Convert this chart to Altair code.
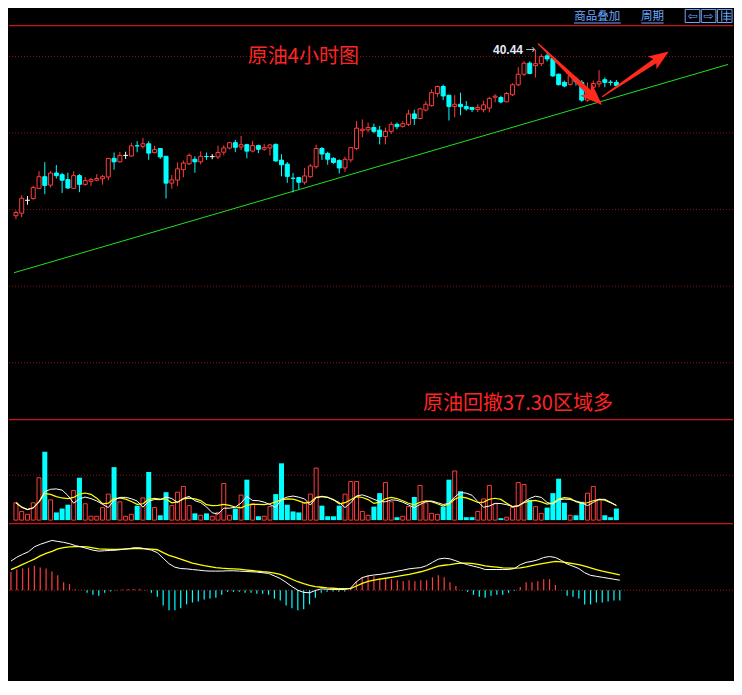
import altair as alt
import pandas as pd

# ---------------- data ----------------
opens = [29.60, 29.77, 30.61, 30.72, 31.39, 32.15, 31.60, 32.39, 32.28, 31.96,
         31.39, 32.22, 31.65, 31.85, 31.92, 32.01, 32.13, 33.35, 33.12, 33.54,
         33.50, 34.17, 34.13, 34.30, 33.72, 33.99, 33.48, 31.73, 31.93, 32.61,
         32.99, 33.29, 33.12, 33.47, 33.46, 33.44, 33.75, 34.02, 34.37, 34.09,
         34.24, 33.82, 34.18, 33.94, 34.03, 34.26, 33.23, 32.97, 32.05, 32.09,
         31.79, 32.15, 32.80, 33.99, 33.67, 33.35, 33.21, 32.72, 33.25, 33.99,
         35.15, 35.21, 35.36, 35.19, 34.77, 35.11, 35.57, 35.44, 35.57, 36.25,
         35.95, 36.50, 36.79, 37.58, 38.04, 37.47, 36.73, 36.88, 36.73, 36.67,
         36.54, 36.52, 36.63, 37.34, 37.32, 37.04, 37.50, 38.15, 38.84, 39.56,
         39.40, 39.53, 40.04, 39.87, 38.84, 38.31, 38.18, 38.54, 38.31, 37.15,
         37.99, 38.21, 38.48, 38.32, 38.31]
closes = [29.81, 30.74, 30.61, 31.44, 32.15, 31.58, 32.39, 32.22, 31.92, 31.41,
          32.22, 31.65, 31.90, 31.96, 32.03, 32.15, 33.34, 33.12, 33.54, 33.54,
          34.16, 34.16, 34.30, 33.69, 33.92, 33.44, 31.73, 31.94, 32.66, 33.04,
          33.54, 33.12, 33.48, 33.46, 33.46, 33.73, 34.03, 34.37, 34.07, 34.24,
          33.82, 34.18, 33.94, 34.05, 34.22, 33.18, 32.93, 32.17, 32.04, 31.79,
          32.20, 32.85, 33.99, 33.63, 33.29, 33.08, 32.72, 33.29, 34.05, 35.32,
          35.25, 35.36, 35.11, 34.77, 35.11, 35.57, 35.42, 35.61, 36.25, 35.95,
          36.58, 36.88, 37.64, 38.04, 37.42, 36.73, 36.88, 36.73, 36.58, 36.54,
          36.67, 36.84, 37.26, 37.41, 37.03, 37.58, 38.15, 38.84, 39.56, 38.89,
          39.53, 40.00, 39.84, 38.73, 38.16, 38.07, 38.73, 38.35, 37.15, 37.85,
          38.23, 38.35, 38.31, 38.31, 38.10]
highs = [29.94, 30.93, 30.89, 31.56, 32.51, 33.10, 32.51, 32.91, 32.41, 32.41,
         32.51, 32.32, 32.13, 32.09, 32.32, 32.26, 33.37, 33.73, 33.75, 33.78,
         34.35, 34.47, 34.68, 34.47, 34.16, 34.02, 33.51, 32.26, 33.08, 33.21,
         33.67, 33.48, 33.80, 33.73, 33.63, 34.18, 34.20, 34.43, 34.56, 34.81,
         34.30, 34.49, 34.24, 34.30, 34.27, 34.32, 33.61, 33.10, 32.39, 32.10,
         32.72, 32.97, 34.24, 34.09, 33.78, 33.42, 33.29, 33.46, 34.08, 35.78,
         35.89, 35.68, 35.61, 35.46, 35.36, 35.74, 35.68, 35.78, 36.52, 36.52,
         36.66, 37.09, 37.85, 38.10, 38.16, 37.50, 37.47, 37.64, 37.09, 36.70,
         36.88, 37.11, 37.36, 37.53, 37.44, 37.68, 38.25, 39.30, 39.68, 39.68,
         40.44, 40.15, 40.21, 40.00, 38.88, 38.42, 38.94, 38.67, 38.46, 38.31,
         38.42, 39.11, 38.63, 38.46, 38.46]
lows = [29.37, 29.51, 30.32, 30.65, 31.35, 31.01, 31.44, 32.04, 31.09, 31.35,
        31.35, 31.14, 31.56, 31.54, 31.85, 31.63, 31.92, 32.61, 33.08, 33.31,
        33.46, 33.75, 33.99, 33.25, 33.67, 33.31, 30.72, 31.36, 31.54, 32.11,
        32.91, 32.41, 32.96, 33.25, 33.29, 33.31, 33.54, 33.94, 33.75, 33.88,
        33.35, 33.73, 33.69, 33.84, 33.53, 33.12, 32.17, 31.75, 31.12, 31.33,
        31.63, 32.09, 32.68, 33.25, 32.93, 32.99, 32.36, 32.47, 33.08, 33.88,
        34.73, 35.04, 34.98, 34.26, 34.26, 34.94, 35.25, 35.36, 35.46, 35.53,
        35.89, 36.41, 36.73, 37.36, 37.15, 35.82, 36.03, 36.16, 36.46, 36.37,
        36.37, 36.35, 36.35, 37.01, 36.94, 37.01, 37.41, 38.06, 38.73, 38.84,
        38.63, 39.37, 39.68, 38.67, 38.10, 37.99, 38.10, 38.10, 37.04, 37.04,
        37.89, 37.99, 37.99, 38.10, 37.99]
volumes = [5400, 2700, 1800, 5400, 13200, 21300, 6300, 2400, 3600, 4800,
           9200, 13200, 5100, 1200, 1200, 3900, 8100, 16500, 5700, 1200,
           1800, 4500, 6900, 15000, 3900, 1500, 8700, 4500, 8700, 10500,
           4500, 2100, 1500, 2100, 1200, 2400, 11400, 1500, 3600, 7800,
           12600, 5100, 1200, 1200, 4200, 8100, 17700, 4800, 2700, 2400,
           5400, 8100, 16200, 4500, 1200, 1200, 4500, 8100, 12000, 12000,
           2700, 1500, 4200, 8400, 11700, 5700, 900, 1200, 4200, 7200,
           10800, 5400, 2100, 1800, 4200, 12600, 15300, 9000, 900, 900,
           2700, 6600, 10800, 5100, 600, 900, 3900, 11700, 11100, 6300,
           4200, 2100, 3900, 8400, 12900, 5400, 1500, 1500, 5700, 8400,
           10500, 6300, 1500, 900, 3600]
dif_values = [0.300, 0.340, 0.370, 0.397, 0.447, 0.473, 0.493, 0.513, 0.503, 0.493,
              0.480, 0.460, 0.447, 0.430, 0.413, 0.403, 0.407, 0.410, 0.413, 0.420,
              0.427, 0.437, 0.437, 0.427, 0.413, 0.387, 0.330, 0.273, 0.237, 0.223,
              0.220, 0.213, 0.207, 0.200, 0.197, 0.197, 0.197, 0.200, 0.200, 0.197,
              0.193, 0.190, 0.187, 0.180, 0.173, 0.147, 0.120, 0.080, 0.037, 0.000,
              -0.023, -0.027, -0.003, 0.013, 0.010, 0.007, 0.007, 0.007, 0.020, 0.087,
              0.130, 0.147, 0.157, 0.163, 0.173, 0.183, 0.197, 0.207, 0.220, 0.227,
              0.233, 0.253, 0.287, 0.320, 0.330, 0.323, 0.303, 0.280, 0.263, 0.247,
              0.233, 0.213, 0.213, 0.213, 0.213, 0.213, 0.223, 0.263, 0.287, 0.297,
              0.313, 0.337, 0.347, 0.337, 0.307, 0.270, 0.247, 0.223, 0.180, 0.153,
              0.143, 0.133, 0.123, 0.113, 0.103]
dea_values = [0.213, 0.237, 0.267, 0.293, 0.320, 0.353, 0.380, 0.400, 0.427, 0.440,
              0.447, 0.450, 0.450, 0.447, 0.437, 0.427, 0.423, 0.420, 0.420, 0.423,
              0.427, 0.430, 0.430, 0.427, 0.423, 0.417, 0.387, 0.360, 0.340, 0.320,
              0.300, 0.280, 0.267, 0.253, 0.243, 0.233, 0.227, 0.223, 0.220, 0.217,
              0.210, 0.203, 0.197, 0.190, 0.187, 0.177, 0.163, 0.140, 0.113, 0.087,
              0.067, 0.050, 0.037, 0.030, 0.023, 0.020, 0.017, 0.017, 0.017, 0.043,
              0.070, 0.090, 0.103, 0.113, 0.123, 0.133, 0.143, 0.153, 0.163, 0.177,
              0.190, 0.207, 0.227, 0.247, 0.257, 0.263, 0.273, 0.280, 0.280, 0.273,
              0.263, 0.250, 0.243, 0.237, 0.230, 0.227, 0.227, 0.230, 0.240, 0.253,
              0.267, 0.277, 0.287, 0.297, 0.293, 0.283, 0.273, 0.263, 0.247, 0.230,
              0.213, 0.197, 0.183, 0.170, 0.157]
macd_hist = [0.187, 0.213, 0.223, 0.233, 0.253, 0.233, 0.223, 0.193, 0.153, 0.083,
             0.063, 0.010, 0.003, -0.027, -0.047, -0.057, -0.027, -0.013, -0.003, 0.007,
             0.013, 0.013, 0.013, -0.003, -0.027, -0.067, -0.157, -0.207, -0.207, -0.187,
             -0.147, -0.127, -0.117, -0.097, -0.087, -0.077, -0.047, -0.017, -0.017, -0.017,
             -0.027, -0.027, -0.037, -0.037, -0.047, -0.087, -0.107, -0.157, -0.187, -0.207,
             -0.197, -0.147, -0.077, -0.027, -0.017, -0.013, -0.017, -0.013, 0.020, 0.093,
             0.133, 0.153, 0.143, 0.123, 0.123, 0.113, 0.103, 0.093, 0.103, 0.093,
             0.103, 0.103, 0.133, 0.153, 0.133, 0.083, 0.043, -0.003, -0.017, -0.047,
             -0.067, -0.077, -0.057, -0.047, -0.047, -0.027, -0.007, 0.033, 0.083, 0.083,
             0.093, 0.113, 0.113, 0.053, -0.003, -0.057, -0.067, -0.087, -0.147, -0.147,
             -0.127, -0.127, -0.117, -0.107, -0.107]
grid_prices = [40, 35, 30, 25, 20]
volume_grid = [14000]
trend_index = [-1 / 3, 123 + 1 / 3]
trend_price = [25.88, 39.48]

# ---------------- layout ----------------
W = 724
H_TOTAL = 673
SX = W / 742
SY = H_TOTAL / 695
H_MAIN = round(424 * SY)
H_VOL = round(532 * SY) - H_MAIN
H_MACD = H_TOTAL - H_MAIN - H_VOL

RED = '#ff3c3c'
CYAN = '#00ffff'
GRID = '#8c1212'
SEP = '#cc1414'
TEXT_RED = '#ff2424'
ARROW_RED = '#ff2a1c'
BLUE = '#6aa8ff'
GREEN = '#20e020'
CJK = 'Noto Sans CJK SC'

xs = alt.Scale(domain=[-1 / 3, 123 + 1 / 3], nice=False, zero=False)
main_y = alt.Scale(domain=[40 - 374 / 15.8, 40 + 50 / 15.8], nice=False, zero=False)
vol_y = alt.Scale(domain=[-900, 31500], nice=False, zero=False)
macd_y = alt.Scale(domain=[-0.937, 0.693], nice=False, zero=False)

n = len(opens)
df = pd.DataFrame({
    'i': list(range(n)), 'o': opens, 'h': highs, 'l': lows, 'c': closes,
    'v': volumes, 'dif': dif_values, 'dea': dea_values, 'hist': macd_hist,
})
df['kind'] = ['up' if c > o else ('down' if c < o else 'flat') for o, c in zip(opens, closes)]
df['vkind'] = ['up' if c >= o else 'down' for o, c in zip(opens, closes)]
df['hs'] = ['pos' if h >= 0 else 'neg' for h in macd_hist]

kind_scale = alt.Scale(domain=['up', 'down', 'flat'], range=[RED, CYAN, '#ffffff'])
X = alt.X('i:Q', scale=xs, axis=None)
one = pd.DataFrame({'k': [0]})


def hx(x):
    return x * SX


def hy(y):
    return y * SY


def hline(y_px, color, width=1.2):
    return alt.Chart(one).mark_rule(color=color, strokeWidth=width).encode(
        x=alt.value(0), x2=alt.value(W), y=alt.value(y_px))


# ---------------- main (candles) panel ----------------
grid = alt.Chart(pd.DataFrame({'p': grid_prices})).mark_rule(
    color=GRID, strokeWidth=1, strokeDash=[1, 2]).encode(
    y=alt.Y('p:Q', scale=main_y, axis=None), x=alt.value(0), x2=alt.value(W))

trend = alt.Chart(pd.DataFrame({'i': trend_index, 'p': trend_price})).mark_line(
    color=GREEN, strokeWidth=1, clip=True).encode(
    x=X, y=alt.Y('p:Q', scale=main_y, axis=None))

wicks = alt.Chart(df).mark_rule(strokeWidth=1, clip=True).encode(
    x=X, y=alt.Y('l:Q', scale=main_y, axis=None), y2='h:Q',
    color=alt.Color('kind:N', scale=kind_scale, legend=None))

up_bodies = alt.Chart(df).transform_filter("datum.kind == 'up'").mark_bar(
    size=4, fill='black', stroke=RED, strokeWidth=1, clip=True).encode(
    x=X, y=alt.Y('o:Q', scale=main_y, axis=None), y2='c:Q')

down_bodies = alt.Chart(df).transform_filter("datum.kind == 'down'").mark_bar(
    size=4, fill=CYAN, stroke=CYAN, strokeWidth=1, clip=True).encode(
    x=X, y=alt.Y('o:Q', scale=main_y, axis=None), y2='c:Q')

flat_bodies = alt.Chart(df).transform_filter("datum.kind == 'flat'").transform_calculate(
    xa='datum.i - 0.42', xb='datum.i + 0.42').mark_rule(
    color='#ffffff', strokeWidth=1, clip=True).encode(
    x=alt.X('xa:Q', scale=xs, axis=None), x2='xb:Q',
    y=alt.Y('c:Q', scale=main_y, axis=None))

title1 = alt.Chart(pd.DataFrame({'i': [40.17], 'p': [39.94]})).mark_text(
    text='原油4小时图', font=CJK, fontSize=20, color=TEXT_RED,
    align='left', baseline='middle').encode(
    x=X, y=alt.Y('p:Q', scale=main_y, axis=None))

title2 = alt.Chart(pd.DataFrame({'i': [70.5], 'p': [17.34]})).mark_text(
    text='原油回撤37.30区域多', font=CJK, fontSize=20, color=TEXT_RED,
    align='left', baseline='middle').encode(
    x=X, y=alt.Y('p:Q', scale=main_y, axis=None))

high_label = alt.Chart(pd.DataFrame({'i': [87.83], 'p': [40.44]})).mark_text(
    text='40.44', font='Liberation Sans', fontWeight='bold', fontSize=12,
    color='#e4eaf8', align='right', baseline='middle').encode(
    x=X, y=alt.Y('p:Q', scale=main_y, axis=None))

high_arrow = alt.Chart(pd.DataFrame({'i': [88.2], 'p': [40.46]})).mark_text(
    text='→', font='DejaVu Sans', fontSize=12, color='#b8b8b8',
    align='left', baseline='middle').encode(
    x=X, y=alt.Y('p:Q', scale=main_y, axis=None))

ARROW_PATH = ('M -1 -0.015 L 0.58 -0.065 L 0.5 -0.19 L 1 0 '
              'L 0.5 0.19 L 0.58 0.065 L -1 0.015 Z')
arrow_down = alt.Chart(pd.DataFrame({'i': [95.975], 'p': [38.84]})).mark_point(
    shape=ARROW_PATH, filled=True, color=ARROW_RED, opacity=1, strokeWidth=0,
    size=7870, angle=43.7).encode(x=X, y=alt.Y('p:Q', scale=main_y, axis=None))
arrow_up = alt.Chart(pd.DataFrame({'i': [107.31], 'p': [38.84]})).mark_point(
    shape=ARROW_PATH, filled=True, color=ARROW_RED, opacity=1, strokeWidth=0,
    size=6480, angle=325.8).encode(x=X, y=alt.Y('p:Q', scale=main_y, axis=None))


# header (menu bar)
def htext(txt, x, y, size=11.5, font=CJK, color=BLUE):
    return alt.Chart(one).mark_text(text=txt, font=font, fontSize=size, color=color,
                                    align='center', baseline='middle').encode(
        x=alt.value(hx(x)), y=alt.value(hy(y)))


def hrule(x1, x2, y1, y2, color=BLUE):
    return alt.Chart(one).mark_rule(color=color, strokeWidth=1).encode(
        x=alt.value(hx(x1)), x2=alt.value(hx(x2)), y=alt.value(hy(y1)), y2=alt.value(hy(y2)))


def hbox(x1, x2):
    return alt.Chart(one).mark_rect(fill='black', stroke=BLUE, strokeWidth=1).encode(
        x=alt.value(hx(x1)), x2=alt.value(hx(x2)), y=alt.value(hy(1.5)), y2=alt.value(hy(15)))


header = [
    htext('商品叠加', 603, 9.3),
    hrule(579, 627, 15.5, 15.5),
    htext('周期', 659.5, 9.3),
    hrule(648, 671, 15.5, 15.5),
    hbox(693, 708), hbox(709.5, 724.5), hbox(726, 741),
    htext('⇦', 700.5, 8.6, size=12, font='DejaVu Sans'),
    htext('⇨', 717, 8.6, size=12, font='DejaVu Sans'),
    hrule(730.5, 730.5, 2.5, 14),
    hrule(732, 740, 5.5, 5.5), hrule(732, 740, 8.5, 8.5), hrule(732, 740, 11.5, 11.5),
    hrule(735.5, 735.5, 2.5, 14),
]

main = alt.layer(
    grid, hline(hy(18.3), SEP), trend, wicks, up_bodies, down_bodies, flat_bodies,
    title1, title2, high_label, high_arrow, arrow_down, arrow_up, *header,
).properties(width=W, height=H_MAIN)

# ---------------- volume panel ----------------
vgrid = alt.Chart(pd.DataFrame({'v': volume_grid})).mark_rule(
    color=GRID, strokeWidth=1, strokeDash=[1, 2]).encode(
    y=alt.Y('v:Q', scale=vol_y, axis=None), x=alt.value(0), x2=alt.value(W))

vol_up = alt.Chart(df).transform_filter("datum.vkind == 'up'").mark_bar(
    size=4, fill='black', stroke=RED, strokeWidth=1, clip=True).encode(
    x=X, y=alt.Y('v:Q', scale=vol_y, axis=None), y2=alt.datum(0))
vol_down = alt.Chart(df).transform_filter("datum.vkind == 'down'").mark_bar(
    size=5, fill=CYAN, clip=True).encode(
    x=X, y=alt.Y('v:Q', scale=vol_y, axis=None), y2=alt.datum(0))

ma5 = alt.Chart(df).transform_window(
    ma5='mean(v)', frame=[-4, 0], sort=[alt.SortField('i')]).mark_line(
    color='#ffffff', strokeWidth=1, clip=True).encode(
    x=X, y=alt.Y('ma5:Q', scale=vol_y, axis=None))
ma10 = alt.Chart(df).transform_window(
    ma10='mean(v)', frame=[-9, 0], sort=[alt.SortField('i')]).mark_line(
    color='#ffff00', strokeWidth=1.2, clip=True).encode(
    x=X, y=alt.Y('ma10:Q', scale=vol_y, axis=None))

vol = alt.layer(
    vgrid, vol_up, vol_down, ma10, ma5, hline(0.6, SEP),
).properties(width=W, height=H_VOL)

# ---------------- MACD panel ----------------
zero_line = alt.Chart(one).mark_rule(color='#b01a1a', strokeWidth=1, strokeDash=[1, 2]).encode(
    y=alt.Y(datum=0, scale=macd_y, axis=None), x=alt.value(0), x2=alt.value(W))

hist = alt.Chart(df).mark_rule(strokeWidth=1.2, clip=True).encode(
    x=X, y=alt.Y('hist:Q', scale=macd_y, axis=None), y2=alt.datum(0),
    color=alt.Color('hs:N', scale=alt.Scale(domain=['pos', 'neg'], range=[RED, CYAN]), legend=None))

dif_line = alt.Chart(df).mark_line(color='#ffffff', strokeWidth=1, clip=True).encode(
    x=X, y=alt.Y('dif:Q', scale=macd_y, axis=None))
dea_line = alt.Chart(df).mark_line(color='#ffff00', strokeWidth=1.3, clip=True).encode(
    x=X, y=alt.Y('dea:Q', scale=macd_y, axis=None))

macd = alt.layer(
    zero_line, hist, dea_line, dif_line, hline(0.6, SEP),
).properties(width=W, height=H_MACD)

chart = alt.vconcat(main, vol, macd, spacing=0).properties(
    background='black', padding=0).configure_view(stroke=None)

chart.save("out.html", embed_options={"renderer": "svg", "actions": False})
